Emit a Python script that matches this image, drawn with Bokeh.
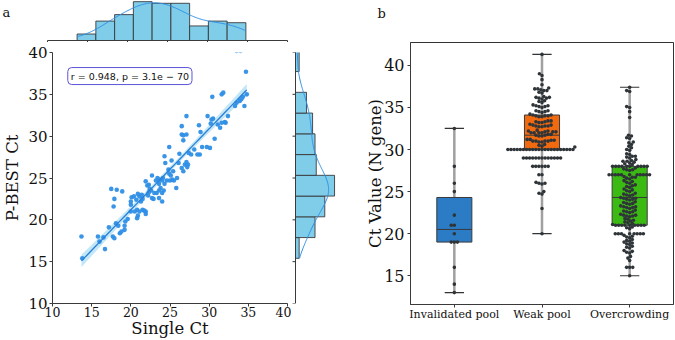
import numpy as np
from bokeh.plotting import figure
from bokeh.layouts import row, column
from bokeh.models import Range1d, Label, FixedTicker
from bokeh.core.properties import value
from bokeh.embed import file_html
from bokeh.resources import INLINE

# ---------------- panel a: Single Ct vs P-BEST Ct ----------------
single_ct = [13.7, 13.8, 15.8, 16.0, 16.5, 16.7, 17.2, 17.5, 17.8, 17.9, 17.7, 17.9,
             18.1, 18.2, 18.4, 18.6, 18.8, 18.9, 19.2, 19.2, 19.3, 19.6, 20.0, 20.0,
             20.0, 20.1, 20.4, 20.5, 20.7, 20.8, 20.8, 20.9, 20.9, 21.1, 21.1, 21.3,
             21.4, 21.5, 21.5, 21.7, 21.9, 21.9, 21.9, 22.1, 22.2, 22.3, 22.3, 22.4,
             22.6, 22.7, 22.7, 22.9, 23.0, 23.2, 23.3, 23.4, 23.6, 23.6, 23.6, 23.7,
             23.8, 24.0, 24.0, 24.0, 24.1, 24.2, 24.3, 24.4, 24.3, 24.6, 24.8, 24.9,
             24.9, 25.0, 25.1, 25.2, 25.3, 25.4, 25.5, 25.8, 25.9, 26.1, 26.2, 26.5,
             26.5, 26.5, 26.7, 26.7, 26.7, 26.9, 27.1, 27.1, 27.1, 27.3, 27.2, 27.4,
             27.7, 28.1, 28.5, 28.7, 28.9, 28.8, 29.1, 29.7, 29.8, 30.1, 30.2, 30.3,
             30.7, 31.1, 31.4, 32.0, 32.1, 32.4, 33.3, 33.5, 33.9, 34.5, 30.4, 31.6,
             31.8, 33.5, 34.0, 34.7, 34.8, 34.1, 34.3, 30.5, 31.6]
pbest_ct = [18.0, 15.4, 18.0, 17.4, 17.9, 16.5, 19.1, 23.7, 21.6, 22.5, 18.0, 17.8,
            19.6, 23.6, 19.3, 18.4, 18.6, 23.4, 18.8, 19.3, 19.8, 20.1, 22.2, 21.8,
            21.0, 22.7, 22.8, 21.0, 22.4, 20.2, 21.2, 20.5, 23.1, 21.0, 22.8, 22.2,
            23.0, 21.2, 22.5, 21.1, 21.0, 20.7, 24.6, 24.1, 22.9, 23.3, 24.2, 23.7,
            23.5, 25.3, 22.6, 22.5, 23.2, 24.7, 23.2, 25.0, 24.3, 23.5, 22.6, 24.8,
            23.8, 22.2, 24.7, 23.2, 25.0, 23.5, 27.6, 26.8, 24.3, 24.7, 26.0, 28.7,
            25.5, 24.7, 25.3, 27.1, 24.8, 25.8, 24.7, 23.8, 25.0, 26.8, 27.9, 31.2,
            30.2, 26.2, 29.5, 30.1, 25.8, 26.6, 32.4, 30.2, 26.9, 26.6, 26.3, 28.0,
            27.8, 28.4, 27.8, 31.3, 30.5, 27.8, 28.7, 28.7, 32.4, 28.6, 31.5, 32.0,
            29.7, 31.4, 31.0, 31.7, 31.6, 32.4, 33.6, 34.0, 34.2, 33.6, 34.7, 35.0,
            35.2, 40.2, 40.2, 37.7, 35.0, 34.4, 34.7, 32.1, 31.6]

# marginal histogram counts
single_ct_counts = [4, 12, 16, 24, 23, 23, 9, 12, 11]
pbest_ct_counts = [3, 16, 24, 32, 17, 16, 14, 9, 0, 3]

stat_text = "r = 0.948, p = 3.1e \u2212 70"

# ---------------- panel b: Ct values per group ----------------
groups = ["Invalidated pool", "Weak pool", "Overcrowding"]
invalidated_pool = [32.5, 28.0, 26.0, 25.0, 22.2, 21.0, 21.0, 20.0, 19.0, 19.0, 19.0,
                    16.0, 14.0, 13.0]
weak_pool = ([41.3, 39.0, 38.8, 38.3, 37.7,
              37.0, 37.1, 37.2, 37.3, 37.0, 37.2, 36.7, 36.8,
              36.0, 36.1, 36.2, 36.3, 36.1, 36.2, 35.6, 35.7, 35.8,
              35.0, 35.1, 35.2, 35.3, 35.1, 35.2, 34.4, 34.5, 34.6, 34.5, 34.6,
              33.9, 34.0, 34.0, 34.1, 34.2, 34.0, 34.1, 33.9,
              33.2, 33.3, 33.4, 33.3, 33.4, 33.2,
              32.7, 32.8, 32.9, 32.8, 32.9, 32.7, 33.0, 32.8,
              32.0, 32.1, 32.2, 32.0, 32.1, 32.2, 32.0, 32.1, 32.3, 32.0,
              31.6, 31.7, 31.8, 31.6, 31.7, 31.8,
              30.9, 31.0, 31.1, 31.0, 31.2, 31.0, 30.9, 31.1, 31.2, 31.0,
              30.4, 30.5, 30.6, 30.3]
             + [30.0] * 22 + [29.0] * 13 + [28.0] * 6 + [27.0] * 2
             + [26.0, 26.1, 25.9, 26.0, 25.0, 24.8, 24.7, 23.0, 20.0])
overcrowding = ([37.4, 37.0, 36.9, 35.1, 35.0, 34.5, 33.8, 31.7, 31.6, 31.4, 31.3,
                 30.9, 30.8, 30.6, 30.4, 30.2, 30.0, 29.9, 29.5, 29.4, 29.2, 29.1,
                 29.0, 29.2, 28.8, 28.7, 28.6, 28.5, 28.4, 28.3, 28.2, 28.6]
                + [28.0] * 10
                + [27.8, 27.7, 27.6, 27.5, 27.6] + [27.0] * 11
                + [26.8, 26.7, 26.6, 26.5, 26.7,
                   26.3, 26.2, 26.1, 26.0,
                   25.8, 25.7, 25.6, 25.5,
                   25.3, 25.2, 25.1, 25.0,
                   24.8, 24.7, 24.6, 24.5, 24.6,
                   24.3, 24.2, 24.1, 24.0, 24.1, 24.2,
                   23.8, 23.7, 23.6, 23.5, 23.6,
                   23.3, 23.2, 23.1, 23.0, 23.1, 23.2,
                   22.8, 22.7, 22.6, 22.5, 22.6,
                   22.3, 22.2, 22.1, 22.0, 22.1, 22.2,
                   21.8, 21.7, 21.6, 21.5,
                   21.4, 21.3, 21.2, 21.1]
                + [21.0] * 9
                + [20.8, 20.7, 20.6] + [20.0] * 8
                + [19.8, 19.7, 19.6, 19.5, 19.3, 19.2, 19.1, 19.0,
                   18.9, 18.8, 18.7, 18.5, 18.4, 18.3, 18.0, 17.9, 17.8, 17.7,
                   17.3, 17.1, 16.8]
                + [16.0] * 3 + [15.0])
group_values = [invalidated_pool, weak_pool, overcrowding]
box_colors = ["#2b7bc5", "#f26a10", "#3cba14"]

SERIF = "DejaVu Serif"
POINT = "#2f8fe6"
BAR = "#80cdea"
EDGE = "#333333"
SPINE = "#3a3a3a"


def style_axis(ax, size):
    ax.major_label_text_font = SERIF
    ax.major_label_text_font_size = size
    ax.major_label_text_color = "#111111"
    ax.axis_label_text_font = SERIF
    ax.axis_label_text_font_style = "normal"
    ax.axis_label_text_color = "#111111"
    ax.axis_line_color = SPINE
    ax.major_tick_line_color = SPINE
    ax.major_tick_out = 3
    ax.major_tick_in = 0
    ax.minor_tick_line_color = None


def kde_curve(data, total, binw):
    d = np.asarray(data, float)
    n = len(d)
    bw = d.std(ddof=1) * n ** (-0.2)
    grid = np.linspace(d.min(), d.max(), 200)
    dens = np.exp(-0.5 * ((grid[:, None] - d[None, :]) / bw) ** 2).sum(1)
    dens /= n * bw * np.sqrt(2 * np.pi)
    return grid, dens * total * binw


def bare_figure(w, h, xr, yr):
    f = figure(width=w, height=h, x_range=xr, y_range=yr,
               min_border_left=0, min_border_right=0, min_border_top=0,
               min_border_bottom=0, x_axis_location=None, y_axis_location=None,
               output_backend="svg", toolbar_location=None)
    f.outline_line_color = None
    f.grid.grid_line_color = None
    return f


ticks5 = [10, 15, 20, 25, 30, 35, 40]

# layout of panel a (pixels)
LEFT, FRAME_W, FRAME_H, TOP, BOTTOM = 47, 240, 252, 10, 36
TOP_H, BASE = 42, 40          # top marginal height and its baseline row
RIGHT_W, AXIS_X = 45, 4       # right marginal width and its axis column
TICK = 3

# main joint plot
p = figure(width=LEFT + FRAME_W + 4, height=TOP + FRAME_H + BOTTOM,
           x_range=Range1d(10, 40), y_range=Range1d(10, 40),
           min_border_left=LEFT, min_border_right=4, min_border_top=TOP,
           min_border_bottom=BOTTOM, output_backend="svg", toolbar_location=None)
p.outline_line_color = None
p.grid.grid_line_color = None
p.xaxis.ticker = FixedTicker(ticks=ticks5)
p.yaxis.ticker = FixedTicker(ticks=ticks5)
style_axis(p.xaxis[0], "12.5px")
style_axis(p.yaxis[0], "15px")
p.xaxis.axis_label = "Single Ct"
p.yaxis.axis_label = "P-BEST Ct"
p.xaxis.axis_label_text_font_size = "16.5px"
p.yaxis.axis_label_text_font_size = "16.5px"
p.xaxis.major_label_standoff = 0
p.yaxis.major_label_standoff = 2
p.xaxis.axis_label_standoff = -1
p.yaxis.axis_label_standoff = 3

sx = np.asarray(single_ct, float)
sy = np.asarray(pbest_ct, float)
slope, icpt = np.polyfit(sx, sy, 1)
xs = np.linspace(sx.min(), sx.max(), 100)
fit = icpt + slope * xs
resid = sy - (icpt + slope * sx)
s_err = np.sqrt((resid ** 2).sum() / (len(sx) - 2))
ci = 1.98 * s_err * np.sqrt(1 / len(sx) + (xs - sx.mean()) ** 2 / ((sx - sx.mean()) ** 2).sum())
p.varea(x=xs, y1=fit - ci, y2=fit + ci, fill_color="#8fd3f0", fill_alpha=0.55)
p.scatter(sx, sy, size=4.6, fill_color=POINT, line_color=None, alpha=0.95)
p.line(xs, fit, line_color="#2a7fd6", line_width=1.3)

p.add_layout(Label(x=11.95, y=38.2, text=stat_text, text_font="DejaVu Sans",
                   text_font_size="9.5px", text_color="#111111", text_align="left",
                   text_baseline="top", background_fill_color="white",
                   border_line_color="#5a55d8", border_line_width=1,
                   padding=3, border_radius=4))

# marginal histogram on top (spine and ticks drawn as glyphs)
x_edges = np.linspace(sx.min(), sx.max(), len(single_ct_counts) + 1)
top_max = 1.03 * max(single_ct_counts)
per_px = top_max / BASE
top_x0 = 10 - LEFT / 8.0
TOP_W = LEFT + FRAME_W + RIGHT_W + 4
ph = bare_figure(TOP_W, TOP_H, Range1d(top_x0, top_x0 + TOP_W / 8.0),
                 Range1d(-(TOP_H - BASE) * per_px, top_max))
ph.quad(left=x_edges[:-1], right=x_edges[1:], bottom=0, top=single_ct_counts,
        fill_color=BAR, line_color=EDGE, line_width=1, line_alpha=0.85)
gx, kx = kde_curve(sx, sum(single_ct_counts), x_edges[1] - x_edges[0])
ph.line(gx, kx, line_color=POINT, line_width=1)
ph.segment(x0=[10], y0=[0], x1=[40], y1=[0], line_color=SPINE, line_width=1)
ph.segment(x0=ticks5, y0=[0] * len(ticks5), x1=ticks5,
           y1=[-TICK * per_px] * len(ticks5), line_color=SPINE, line_width=1)
ph.text(x=[top_x0 + 2 / 8.0], y=[top_max - 12 * per_px], text=["a"],
        text_font=value(SERIF), text_font_size="13px", text_color="#111111",
        text_baseline="alphabetic", text_align="left")

# marginal histogram on the right (spine and ticks drawn as glyphs)
y_edges = np.linspace(sy.min(), sy.max(), len(pbest_ct_counts) + 1)
right_max = 1.05 * max(pbest_ct_counts)
per_px_r = right_max / (RIGHT_W - AXIS_X)
pr = figure(width=RIGHT_W, height=TOP + FRAME_H + BOTTOM,
            x_range=Range1d(-AXIS_X * per_px_r, right_max), y_range=p.y_range,
            min_border_left=0, min_border_right=0, min_border_top=TOP,
            min_border_bottom=BOTTOM, x_axis_location=None, y_axis_location=None,
            output_backend="svg", toolbar_location=None)
pr.outline_line_color = None
pr.grid.grid_line_color = None
pr.quad(left=0, right=pbest_ct_counts, bottom=y_edges[:-1], top=y_edges[1:],
        fill_color=BAR, line_color=EDGE, line_width=1, line_alpha=0.85)
gy, ky = kde_curve(sy, sum(pbest_ct_counts), y_edges[1] - y_edges[0])
pr.line(ky, gy, line_color=POINT, line_width=1)
pr.segment(x0=[0], y0=[10], x1=[0], y1=[40], line_color=SPINE, line_width=1)
pr.segment(x0=[0] * len(ticks5), y0=ticks5, x1=[-TICK * per_px_r] * len(ticks5),
           y1=ticks5, line_color=SPINE, line_width=1)

# ---------------- panel b ----------------
all_vals = np.concatenate([np.asarray(v, float) for v in group_values])
span = all_vals.max() - all_vals.min()
y_lo, y_hi = all_vals.min() - 0.05 * span, all_vals.max() + 0.05 * span

B_W, B_LEFT, B_RIGHT, B_HEAD, B_TOP, B_BOTTOM = 339, 74, 2, 20, 22, 36
B_FRAME_W = B_W - B_LEFT - B_RIGHT
B_FRAME_H = 340 - B_HEAD - B_TOP - B_BOTTOM
px_x = B_FRAME_W / 3.0
px_y = B_FRAME_H / (y_hi - y_lo)


def swarm_x(vals, center, d=3.1):
    v = np.asarray(vals, float)
    order = np.argsort(v, kind="mergesort")
    py_list, px_list = [], []
    offs = np.zeros(len(v))
    for i in order:
        y = v[i] * px_y
        py = np.array(py_list)
        pxx = np.array(px_list)
        if len(py):
            m = np.abs(py - y) < d
            ny, nx = py[m], pxx[m]
        else:
            ny = nx = np.array([])
        dx = np.sqrt(np.maximum(d * d - (ny - y) ** 2, 0))
        cands = np.concatenate([[0.0], nx - dx, nx + dx])
        cands = cands[np.argsort(np.abs(cands), kind="mergesort")]
        for c in cands:
            if len(ny) == 0 or np.all((nx - c) ** 2 + (ny - y) ** 2 >= d * d - 1e-6):
                offs[i] = c
                break
        py_list.append(y)
        px_list.append(offs[i])
    return center + offs / px_x


# strip holding the panel letter above panel b
hb = bare_figure(B_W, B_HEAD, Range1d(0, B_W), Range1d(0, B_HEAD))
hb.text(x=[B_LEFT - 33], y=[B_HEAD - 13], text=["b"], text_font=value(SERIF),
        text_font_size="13px", text_color="#111111", text_baseline="alphabetic",
        text_align="left")

pb = figure(width=B_W, height=340 - B_HEAD, x_range=Range1d(-0.5, 2.5),
            y_range=Range1d(y_lo, y_hi),
            min_border_left=B_LEFT, min_border_right=B_RIGHT, min_border_top=B_TOP,
            min_border_bottom=B_BOTTOM, output_backend="svg", toolbar_location=None)
pb.grid.grid_line_color = None
pb.outline_line_color = "#333333"
pb.outline_line_width = 1
pb.xaxis.ticker = FixedTicker(ticks=[0, 1, 2])
pb.xaxis.major_label_overrides = {0: groups[0], 1: groups[1], 2: groups[2]}
pb.yaxis.ticker = FixedTicker(ticks=[15, 20, 25, 30, 35, 40])
style_axis(pb.xaxis[0], "11px")
style_axis(pb.yaxis[0], "16px")
pb.yaxis.axis_label = "Ct Value (N gene)"
pb.yaxis.axis_label_text_font_size = "16.5px"
pb.xaxis.major_label_standoff = 0
pb.yaxis.major_label_standoff = 3
pb.yaxis.axis_label_standoff = -4

half_box, half_cap = 0.2, 0.11
for i, vals in enumerate(group_values):
    v = np.asarray(vals, float)
    q1, med, q3 = np.percentile(v, [25, 50, 75])
    lo, hi = v.min(), v.max()
    pb.segment(x0=[i, i], y0=[lo, q3], x1=[i, i], y1=[q1, hi],
               line_color="#a0a0a0", line_width=2.5)
    pb.segment(x0=[i - half_cap, i - half_cap], y0=[lo, hi],
               x1=[i + half_cap, i + half_cap], y1=[lo, hi],
               line_color="#333333", line_width=1.2)
    pb.quad(left=i - half_box, right=i + half_box, bottom=q1, top=q3,
            fill_color=box_colors[i], line_color="#3a3a3a", line_width=1)
    pb.segment(x0=i - half_box, y0=med, x1=i + half_box, y1=med,
               line_color="#3a3a3a", line_width=1)
    pb.scatter(swarm_x(v, i), v, size=3.6, fill_color="#2e3438", line_color=None)

layout = row(column(ph, row(p, pr)), column(row(hb), pb))
open("out.html", "w").write(file_html(layout, INLINE))
